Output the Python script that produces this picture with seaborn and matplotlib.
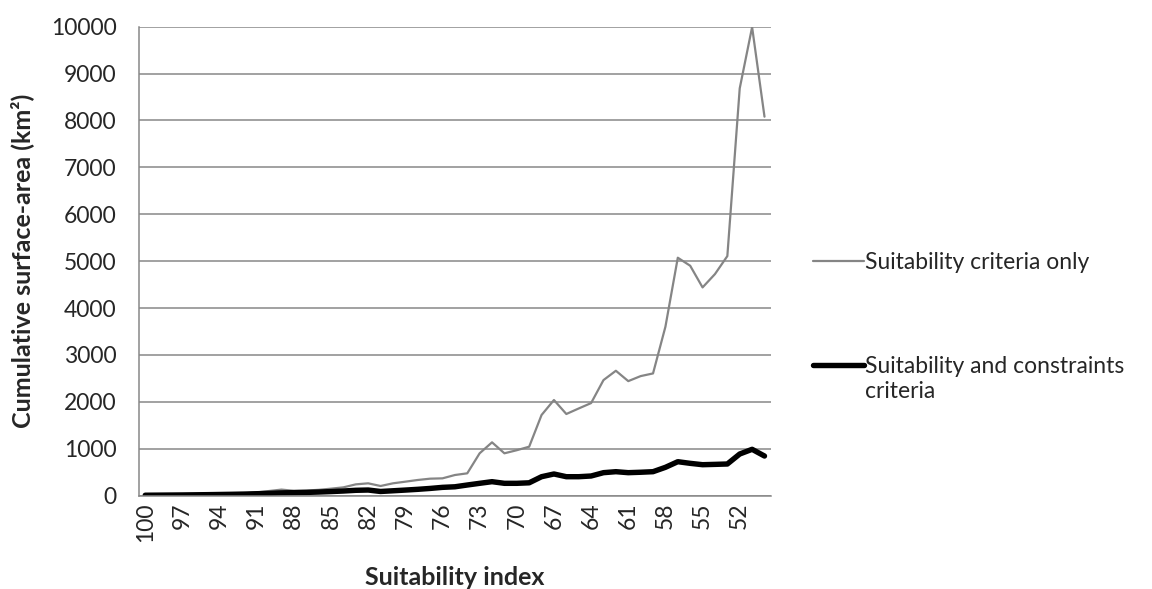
import numpy as np
import pandas as pd
import matplotlib
matplotlib.use("Agg")
import matplotlib.pyplot as plt
from matplotlib.ticker import FixedLocator, MultipleLocator
from matplotlib.lines import Line2D
import seaborn as sns

# suitability index, 100 down to 50
suitability_index = list(range(100, 49, -1))

# cumulative surface-area (km2)
criteria_only = [10, 12, 15, 18, 22, 28, 33, 40, 50, 70,
                 100, 130, 105, 110, 125, 150, 178, 242, 264, 207,
                 264, 299, 335, 363, 370, 441, 477, 904, 1138, 904,
                 970, 1045, 1721, 2040, 1742, 1860, 1975, 2465, 2664, 2443,
                 2550, 2607, 3602, 5074, 4903, 4441, 4725, 5109, 8685, 9990,
                 8081]
with_constraints = [10, 12, 14, 16, 19, 22, 26, 30, 35, 42,
                    50, 60, 65, 70, 78, 88, 100, 115, 121, 90,
                    105, 120, 136, 155, 178, 190, 228, 264, 299, 264,
                    264, 275, 405, 463, 405, 405, 420, 491, 512, 491,
                    500, 512, 605, 725, 690, 661, 668, 676, 889, 989,
                    846]

label_only = "Suitability criteria only"
label_constr = "Suitability and constraints"

df = pd.DataFrame({
    "index": suitability_index * 2,
    "area": criteria_only + with_constraints,
    "series": [label_only] * len(criteria_only) + [label_constr] * len(with_constraints),
})

sns.set_style("white")
plt.rcParams["font.family"] = ["Lato", "DejaVu Sans"]

fig = plt.figure(figsize=(11.52, 5.89), dpi=100)
ax = fig.add_axes([0.1207, 0.1584, 0.5483, 0.7963])

grid_col = "#878787"
sns.lineplot(data=df, x="index", y="area", hue="series", size="series",
             palette={label_only: "#858585", label_constr: "#000000"},
             sizes={label_only: 1.6, label_constr: 3.9},
             ax=ax, legend=False, solid_capstyle="round", solid_joinstyle="round")

ax.set_xlim(100.5, 49.5)
ax.set_ylim(0, 10000)
ax.yaxis.set_major_locator(MultipleLocator(1000))
ax.grid(axis="y", color=grid_col, lw=1.1)
ax.set_axisbelow(True)

ax.xaxis.set_major_locator(FixedLocator(suitability_index[::3]))
ax.xaxis.set_minor_locator(FixedLocator([v + 0.5 for v in suitability_index] + [49.5]))
ax.tick_params(axis="x", which="major", length=0, labelsize=16.5, rotation=90, pad=5)
ax.tick_params(axis="x", which="minor", length=7, width=1.1, color=grid_col, direction="out")
ax.tick_params(axis="y", length=8, width=1.1, color=grid_col, direction="out",
               labelsize=16.5, pad=8)

for s in ["top", "right"]:
    ax.spines[s].set_visible(False)
for s in ["left", "bottom"]:
    ax.spines[s].set_color(grid_col)
    ax.spines[s].set_linewidth(1.1)

ax.set_xlabel("")
ax.set_ylabel("")
fig.text(0.019, 0.557, "Cumulative surface-area (km²)", rotation=90, fontsize=18,
         fontweight="bold", ha="center", va="center")
fig.text(0.395, 0.019, "Suitability index", fontsize=18, fontweight="bold",
         ha="center", va="center")

handles = [Line2D([], [], color="#858585", lw=1.6),
           Line2D([], [], color="#000000", lw=3.9)]
leg = fig.legend(handles, [label_only, label_constr], loc="upper left",
                 bbox_to_anchor=(0.688, 0.607), frameon=False, fontsize=16.5,
                 handlelength=2.2, handletextpad=0.08, labelspacing=3.6)

# second line of the second legend label sits under its first line
fig.canvas.draw()
bb = leg.get_texts()[1].get_window_extent().transformed(fig.transFigure.inverted())
fig.text(bb.x0, bb.y0 - 0.008, "criteria", fontsize=16.5, ha="left", va="top")

plt.savefig("out.png", dpi=100)
